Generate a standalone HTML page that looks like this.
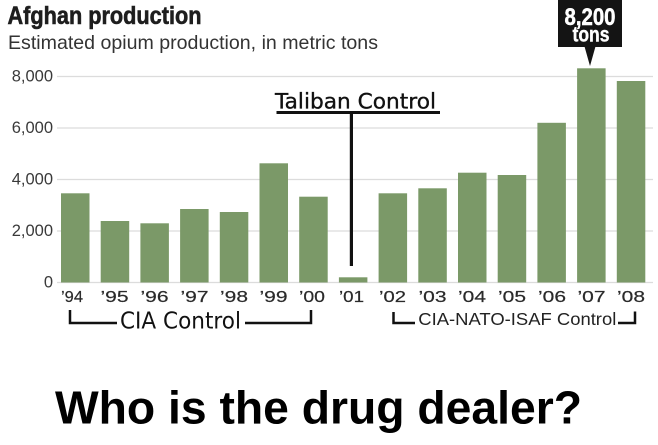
<!DOCTYPE html>
<html>
<head>
<meta charset="utf-8">
<style>
  html,body{margin:0;padding:0;background:#fff;}
  svg{display:block;}
</style>
</head>
<body>
<svg width="658" height="445" viewBox="0 0 658 445" xmlns="http://www.w3.org/2000/svg">
  <rect width="658" height="445" fill="#ffffff"/>
  <!-- Title -->
  <text x="7.5" y="24" font-family="Liberation Sans, Arial, sans-serif" font-weight="bold" font-size="25" fill="#1e1e1e" stroke="#1e1e1e" stroke-width="0.6" textLength="194" lengthAdjust="spacingAndGlyphs">Afghan production</text>
  <text x="8" y="49" font-family="Liberation Sans, Arial, sans-serif" font-size="19.5" fill="#333" textLength="370" lengthAdjust="spacingAndGlyphs">Estimated opium production, in metric tons</text>

  <!-- gridlines -->
  <g stroke="#dcdcdc" stroke-width="1.2">
    <line x1="57" y1="76.5" x2="653" y2="76.5"/>
    <line x1="57" y1="128" x2="653" y2="128"/>
    <line x1="57" y1="179.5" x2="653" y2="179.5"/>
    <line x1="57" y1="231" x2="653" y2="231"/>
    <line x1="57" y1="282.5" x2="653" y2="282.5"/>
  </g>
  <!-- y labels -->
  <g font-family="Liberation Sans, Arial, sans-serif" font-size="16.5" fill="#3a3a3a" text-anchor="end">
    <text x="53" y="81.5">8,000</text>
    <text x="53" y="133">6,000</text>
    <text x="53" y="184.5">4,000</text>
    <text x="53" y="236">2,000</text>
    <text x="53" y="287.5">0</text>
  </g>

  <!-- bars -->
  <g fill="#7b9968">
    <rect x="61" y="193.3" width="28.5" height="89.2"/>
    <rect x="100.7" y="221" width="28.5" height="61.5"/>
    <rect x="140.4" y="223.3" width="28.5" height="59.2"/>
    <rect x="180.1" y="209" width="28.5" height="73.5"/>
    <rect x="219.8" y="212" width="28.5" height="70.5"/>
    <rect x="259.5" y="163.3" width="28.5" height="119.2"/>
    <rect x="299.2" y="196.7" width="28.5" height="85.8"/>
    <rect x="338.9" y="277.3" width="28.5" height="5.2"/>
    <rect x="378.6" y="193.3" width="28.5" height="89.2"/>
    <rect x="418.3" y="188.3" width="28.5" height="94.2"/>
    <rect x="458" y="172.7" width="28.5" height="109.8"/>
    <rect x="497.7" y="175" width="28.5" height="107.5"/>
    <rect x="537.4" y="122.8" width="28.5" height="159.7"/>
    <rect x="577.1" y="68.3" width="28.5" height="214.2"/>
    <rect x="616.8" y="81" width="28.5" height="201.5"/>
  </g>

  <!-- x labels -->
  <g font-family="Liberation Sans, Arial, sans-serif" font-size="16" fill="#2a2a2a" stroke="#2a2a2a" stroke-width="0.2">
    <text x="61" y="302" textLength="22" lengthAdjust="spacingAndGlyphs">’94</text>
    <text x="100.5" y="302" textLength="28" lengthAdjust="spacingAndGlyphs">’95</text>
    <text x="140.5" y="302" textLength="28" lengthAdjust="spacingAndGlyphs">’96</text>
    <text x="180.5" y="302" textLength="28" lengthAdjust="spacingAndGlyphs">’97</text>
    <text x="220" y="302" textLength="28" lengthAdjust="spacingAndGlyphs">’98</text>
    <text x="259.5" y="302" textLength="28" lengthAdjust="spacingAndGlyphs">’99</text>
    <text x="299" y="302" textLength="26" lengthAdjust="spacingAndGlyphs">’00</text>
    <text x="339" y="302" textLength="25" lengthAdjust="spacingAndGlyphs">’01</text>
    <text x="379" y="302" textLength="27" lengthAdjust="spacingAndGlyphs">’02</text>
    <text x="418.5" y="302" textLength="28" lengthAdjust="spacingAndGlyphs">’03</text>
    <text x="458" y="302" textLength="28" lengthAdjust="spacingAndGlyphs">’04</text>
    <text x="498" y="302" textLength="28" lengthAdjust="spacingAndGlyphs">’05</text>
    <text x="538" y="302" textLength="28" lengthAdjust="spacingAndGlyphs">’06</text>
    <text x="577.5" y="302" textLength="28" lengthAdjust="spacingAndGlyphs">’07</text>
    <text x="617" y="302" textLength="28" lengthAdjust="spacingAndGlyphs">’08</text>
  </g>

  <!-- 8,200 tons callout -->
  <rect x="558" y="0" width="64" height="47" fill="#141414"/>
  <polygon points="584.5,46.5 595.5,46.5 590,66" fill="#141414"/>
  <text x="590" y="25" font-family="Liberation Sans, Arial, sans-serif" font-weight="bold" font-size="24" fill="#fff" stroke="#fff" stroke-width="0.5" text-anchor="middle" textLength="51" lengthAdjust="spacingAndGlyphs">8,200</text>
  <text x="591" y="41.7" font-family="Liberation Sans, Arial, sans-serif" font-weight="bold" font-size="21" fill="#fff" stroke="#fff" stroke-width="0.4" text-anchor="middle" textLength="37" lengthAdjust="spacingAndGlyphs">tons</text>

  <!-- Taliban Control -->
  <text x="275" y="108.3" font-family="DejaVu Sans, Liberation Sans, sans-serif" font-size="21" fill="#111" stroke="#111" stroke-width="0.35" textLength="161" lengthAdjust="spacingAndGlyphs">Taliban Control</text>
  <rect x="276.5" y="111" width="163.5" height="3" fill="#111"/>
  <rect x="349.8" y="112" width="3.2" height="154" fill="#111"/>

  <!-- CIA Control bracket -->
  <path d="M70,310 V323 H117 M245,323 H311 V310" fill="none" stroke="#111" stroke-width="2.5"/>
  <text x="120" y="328.3" font-family="DejaVu Sans, Liberation Sans, sans-serif" font-size="23" fill="#111" textLength="121" lengthAdjust="spacingAndGlyphs">CIA Control</text>

  <!-- CIA-NATO-ISAF Control bracket -->
  <path d="M393.5,312 V323 H415 M618,323 H635 V311.5" fill="none" stroke="#111" stroke-width="2.5"/>
  <text x="418.3" y="325" font-family="Liberation Sans, Arial, sans-serif" font-size="17.5" fill="#222" textLength="198" lengthAdjust="spacingAndGlyphs">CIA-NATO-ISAF Control</text>

  <!-- bottom headline -->
  <text x="55" y="423.3" font-family="Liberation Sans, Arial, sans-serif" font-weight="bold" font-size="46.5" fill="#000" textLength="527" lengthAdjust="spacingAndGlyphs">Who is the drug dealer?</text>
</svg>
</body>
</html>
